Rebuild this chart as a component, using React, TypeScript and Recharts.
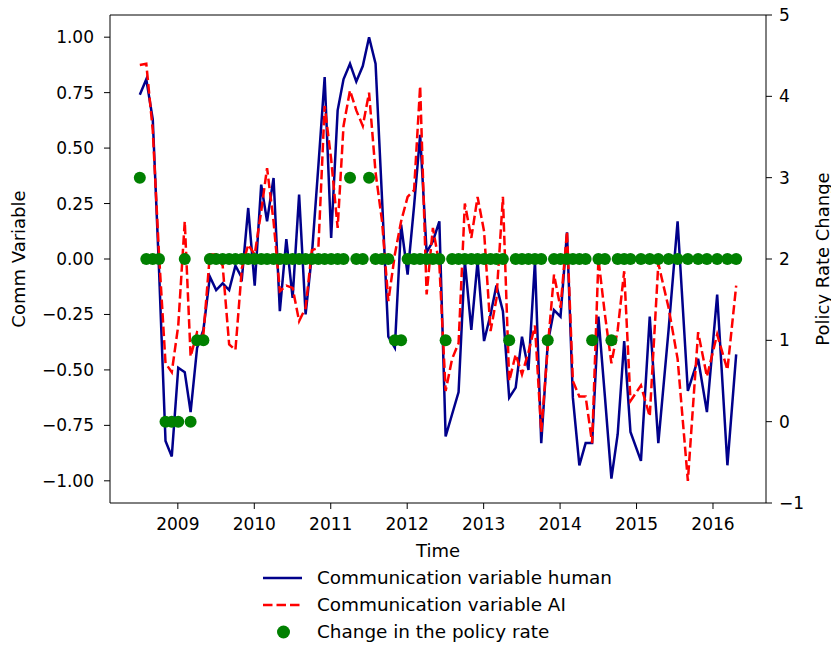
import {
  ComposedChart,
  Line,
  Scatter,
  XAxis,
  YAxis,
  ReferenceLine,
} from 'recharts'

// monthly meetings Jul 2008 .. Dec 2014, then the six-weekly cycle
const MONTHLY_FROM = [2008, 7]
const MONTHLY_TO = [2014, 12]
const LATER_MEETINGS = [
  '2015-01-22', '2015-03-05', '2015-04-15', '2015-06-03', '2015-07-16', '2015-09-03',
  '2015-10-22', '2015-12-03', '2016-01-21', '2016-03-10', '2016-04-21',
]

const commHuman = [
  0.74, 0.81, 0.63, -0.05, -0.82, -0.89, -0.49, -0.51, -0.69, -0.4,
  -0.32, -0.08, -0.14, -0.11, -0.14, -0.03, -0.085, 0.23, -0.12, 0.335,
  0.17, 0.365, -0.235, 0.09, -0.175, 0.29, -0.25, 0.02, 0.42, 0.82,
  0.095, 0.67, 0.81, 0.88, 0.8, 0.87, 1.0, 0.88, 0.27, -0.35,
  -0.4, 0.155, -0.07, 0.24, 0.56, 0.03, 0.08, 0.17, -0.8, -0.7,
  -0.6, -0.01, -0.32, -0.01, -0.37, -0.25, -0.12, -0.235, -0.625, -0.58,
  -0.35, -0.5, -0.01, -0.83, -0.38, -0.23, -0.26, 0.12, -0.625, -0.93,
  -0.83, -0.83, -0.26, -0.62, -0.99, -0.79, -0.37, -0.78,
  -0.91, -0.26, -0.83, -0.32, 0.17, -0.595, -0.45, -0.69, -0.16, -0.93,
  -0.43,
]

const commAI = [
  0.875, 0.88, 0.58, 0.02, -0.47, -0.51, -0.3, 0.17, -0.44, -0.33,
  -0.34, 0.02, 0.02, -0.03, -0.385, -0.41, -0.04, 0.065, 0.02, 0.215,
  0.41, 0.17, -0.145, -0.12, -0.13, -0.28, -0.22, 0.04, 0.05, 0.69,
  0.45, 0.14, 0.6, 0.76, 0.67, 0.6, 0.75, 0.39, 0.17, -0.19,
  0.02, 0.17, 0.28, 0.31, 0.78, -0.16, 0.14, -0.025, -0.595, -0.45,
  -0.38, 0.25, 0.095, 0.28, 0.125, -0.325, -0.18, 0.28, -0.55, -0.43,
  -0.52, -0.42, -0.3, -0.78, -0.4, -0.07, -0.22, 0.125, -0.55, -0.62,
  -0.62, -0.83, 0.0, -0.25, -0.47, -0.32, -0.055, -0.64,
  -0.57, -0.71, -0.02, -0.22, -0.45, -1.0, -0.33, -0.53, -0.34, -0.5,
  -0.12,
]

const rateChange = [
  3, 2, 2, 2, 0, 0, 0, 2, 0, 1,
  1, 2, 2, 2, 2, 2, 2, 2, 2, 2,
  2, 2, 2, 2, 2, 2, 2, 2, 2, 2,
  2, 2, 2, 3, 2, 2, 3, 2, 2, 2,
  1, 1, 2, 2, 2, 2, 2, 2, 1, 2,
  2, 2, 2, 2, 2, 2, 2, 2, 1, 2,
  2, 2, 2, 2, 1, 2, 2, 2, 2, 2,
  2, 1, 2, 2, 1, 2, 2, 2,
  2, 2, 2, 2, 2, 2, 2, 2, 2, 2,
  2,
]

const yearTicks = [2009, 2010, 2011, 2012, 2013, 2014, 2015, 2016]
const leftTicks = [-1, -0.75, -0.5, -0.25, 0, 0.25, 0.5, 0.75, 1]
const rightTicks = [-1, 0, 1, 2, 3, 4, 5]

// date -> decimal year, like a matplotlib date axis
const toYear = (y: number, m: number, d: number) => {
  const start = Date.UTC(y, 0, 1)
  const len = Date.UTC(y + 1, 0, 1) - start
  return y + (Date.UTC(y, m - 1, d) - start) / len
}

const dates: number[] = []
for (let y = MONTHLY_FROM[0], m = MONTHLY_FROM[1]; y < MONTHLY_TO[0] || (y === MONTHLY_TO[0] && m <= MONTHLY_TO[1]); m++) {
  if (m > 12) { m = 1; y++ }
  dates.push(toYear(y, m, 3))
  if (y === MONTHLY_TO[0] && m === MONTHLY_TO[1]) break
}
LATER_MEETINGS.forEach((s) => {
  const [y, m, d] = s.split('-').map(Number)
  dates.push(toYear(y, m, d))
})

const data = dates.map((t, i) => ({
  t,
  human: commHuman[i],
  ai: commAI[i],
  rate: rateChange[i],
}))

const t0 = dates[0]
const t1 = dates[dates.length - 1]
const pad = (t1 - t0) * 0.05

const FONT = "'DejaVu Sans', sans-serif"
const tickStyle = { fill: '#000', fontSize: 17, fontFamily: FONT }
const minus = (s: string) => s.replace('-', '\u2212')

const VTitle = ({ viewBox, text, x }: any) => {
  const cy = viewBox.y + viewBox.height / 2
  return (
    <text
      x={x}
      y={cy}
      transform={`rotate(-90 ${x} ${cy})`}
      textAnchor="middle"
      dominantBaseline="central"
      fontSize={18}
      fontFamily={FONT}
      fill="#000"
    >
      {text}
    </text>
  )
}

function LegendBox() {
  const row = { display: 'flex', alignItems: 'center', height: 27 }
  return (
    <div
      style={{
        position: 'absolute',
        left: 256,
        top: 564,
        fontFamily: FONT,
        fontSize: 18.4,
        color: '#000',
      }}
    >
      <div style={row}>
        <svg width={61} height={14}>
          <line x1={7} x2={46} y1={7} y2={7} stroke="#00008b" strokeWidth={2.5} />
        </svg>
        <span>Communication variable human</span>
      </div>
      <div style={row}>
        <svg width={61} height={14}>
          <line x1={7} x2={46} y1={7} y2={7} stroke="#ff0000" strokeWidth={2.5} strokeDasharray="9.5 4" />
        </svg>
        <span>Communication variable AI</span>
      </div>
      <div style={row}>
        <svg width={61} height={14}>
          <circle cx={27.5} cy={7} r={6.5} fill="#008000" />
        </svg>
        <span>Change in the policy rate</span>
      </div>
    </div>
  )
}

export default function App() {
  return (
    <div style={{ position: 'absolute', left: 0, top: 0, width: 831, height: 645, background: '#fff' }}>
      <ComposedChart
        width={831}
        height={645}
        data={data}
        margin={{ top: 15, right: 0, bottom: 80, left: 0 }}
      >
        <XAxis
          dataKey="t"
          type="number"
          domain={[t0 - pad, t1 + pad]}
          ticks={yearTicks}
          interval={0}
          height={62}
          tick={tickStyle}
          tickSize={6}
          tickMargin={9}
          stroke="#000"
          label={{ value: 'Time', position: 'insideBottom', offset: 8, fontSize: 18, fontFamily: FONT, fill: '#000' }}
        />
        <YAxis
          yAxisId="left"
          domain={[-1.1, 1.1]}
          ticks={leftTicks}
          interval={0}
          width={110}
          tick={tickStyle}
          tickSize={6}
          tickMargin={10}
          stroke="#000"
          tickFormatter={(v: number) => minus(v.toFixed(2))}
          label={(p: any) => <VTitle {...p} text="Comm Variable" x={18} />}
        />
        <YAxis
          yAxisId="right"
          orientation="right"
          domain={[-1, 5]}
          ticks={rightTicks}
          interval={0}
          width={65}
          tick={tickStyle}
          tickSize={6}
          tickMargin={7}
          stroke="#000"
          tickFormatter={(v: number) => minus(String(v))}
          label={(p: any) => <VTitle {...p} text="Policy Rate Change" x={822} />}
        />
        <ReferenceLine yAxisId="left" y={1.1} stroke="#000" strokeWidth={1} />
        <Line
          yAxisId="left"
          dataKey="human"
          type="linear"
          stroke="#00008b"
          strokeWidth={2.5}
          dot={false}
          activeDot={false}
          isAnimationActive={false}
        />
        <Line
          yAxisId="left"
          dataKey="ai"
          type="linear"
          stroke="#ff0000"
          strokeWidth={2.5}
          strokeDasharray="9.5 4"
          dot={false}
          activeDot={false}
          isAnimationActive={false}
        />
        <Scatter
          yAxisId="right"
          dataKey="rate"
          fill="#008000"
          isAnimationActive={false}
          shape={(p: any) => <circle cx={p.cx} cy={p.cy} r={6} fill="#008000" />}
        />
      </ComposedChart>
      <LegendBox />
    </div>
  )
}
